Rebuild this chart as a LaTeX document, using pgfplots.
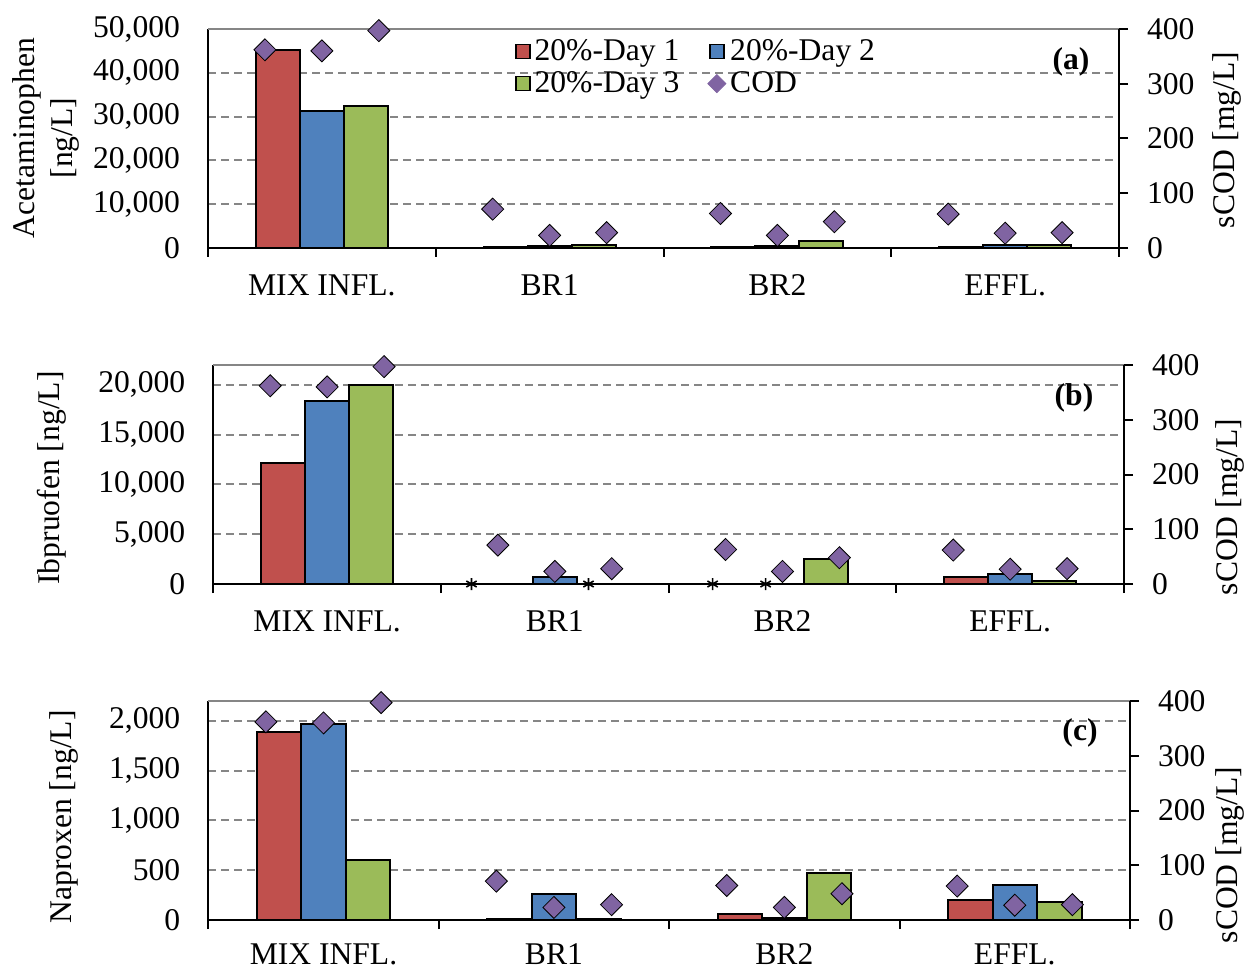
\documentclass[border=0pt]{standalone}
\usepackage{fontspec}
\setmainfont{Liberation Serif}
\usepackage{pgfplots}
\pgfplotsset{compat=1.18}
\definecolor{cred}{HTML}{C0504D}
\definecolor{cblue}{HTML}{4F81BD}
\definecolor{cgreen}{HTML}{9BBB59}
\definecolor{cpurple}{HTML}{8064A2}
\definecolor{cgrid}{HTML}{868686}

\pgfplotsset{
  every non boxed x axis/.style={},
  every non boxed y axis/.style={},
  base/.style={scale only axis, anchor=south west, xmin=-0.5, xmax=3.5, ymin=0, clip=false,
    height=109.5pt, axis line style={-, black, line width=1pt},
    tick style={black, line width=1pt}, major tick length=4.5pt, tick align=outside,
    /pgf/number format/assume math mode=true,
    /pgf/number format/.cd, fixed, 1000 sep={,}},
  prim/.style={base, axis x line*=bottom, axis y line*=left,
    xtick={-0.5,0.5,1.5,2.5,3.5}, xticklabels={},
    extra x ticks={0,1,2,3}, extra x tick labels={MIX INFL.,BR1,BR2,EFFL.},
    extra x tick style={major tick length=0pt, xticklabel style={inner sep=0.8pt, yshift=-12.5pt}},
    yticklabel style={xshift=-6pt},
    ytick style={draw=none}, scaled y ticks=false,
    ymajorgrids, major grid style={dash pattern=on 4pt off 2.5pt, color=cgrid, line width=1pt}},
  sec/.style={base, axis y line*=right, axis x line*=top, x axis line style={color=cgrid},
    xtick=\empty, ymax=400, ytick={0,100,...,400}, yticklabel style={xshift=6pt}},
  bar/.style={ybar, bar width=0.193, bar shift=0pt, draw=black, line width=1pt, forget plot},
  cod/.style={only marks, mark=square*, mark size=3.9pt, mark options={rotate=45, fill=cpurple, draw=none}},
  legsq/.style={legend image code/.code={\draw[draw=black, line width=0.8pt, ##1] (-1.5pt,-3.5pt) rectangle (5.5pt,3.5pt);}},
  legdia/.style={legend image code/.code={\fill[cpurple] (2pt,-4.5pt) -- (6.5pt,0pt) -- (2pt,4.5pt) -- (-2.5pt,0pt) -- cycle;}},
}

\begin{document}
\begin{tikzpicture}[font=\fontsize{15.8}{18.5}\selectfont]
% ---------- panel (a)
\begin{axis}[prim, at={(104pt,361pt)}, width=455.5pt, ymax=50000, ytick={0,10000,...,50000},
  legend style={at={(0.33,0.99)}, anchor=north west, draw=none, fill=none, legend columns=2,
    /tikz/every even column/.append style={column sep=12pt}, legend cell align=left}]
\addplot[bar, fill=cred] coordinates {(-0.193,45200) (0.807,300) (1.807,300) (2.807,200)};
\addplot[bar, fill=cblue] coordinates {(0,31300) (1,450) (2,450) (3,650)};
\addplot[bar, fill=cgreen] coordinates {(0.193,32500) (1.193,700) (2.193,1600) (3.193,700)};
\addlegendimage{legsq, fill=cred}
\addlegendentry{20\%-Day 1}
\addlegendimage{legsq, fill=cblue}
\addlegendentry{20\%-Day 2}
\addlegendimage{legsq, fill=cgreen}
\addlegendentry{20\%-Day 3}
\addlegendimage{legdia}
\addlegendentry{COD}
\end{axis}
\begin{axis}[sec, at={(104pt,361pt)}, width=455.5pt]
\addplot[cod] coordinates {(-0.25,362) (0,360) (0.25,397) (0.75,71) (1,23) (1.25,28) (1.75,63) (2,23) (2.25,48) (2.75,62) (3,27) (3.25,28)};
\end{axis}
% ---------- panel (b)
\begin{axis}[prim, at={(106.65pt,193pt)}, width=455.35pt, ymax=22000, ytick={0,5000,...,20000}]
\addplot[bar, fill=cred] coordinates {(-0.193,12150) (2.807,670)};
\addplot[bar, fill=cblue] coordinates {(0,18400) (1,750) (3,970)};
\addplot[bar, fill=cgreen] coordinates {(0.193,19950) (2.193,2500) (3.193,330)};
\addplot[only marks, mark=asterisk, mark size=3pt, mark options={black, line width=0.8pt}, forget plot]
  coordinates {(0.634,0) (1.148,0) (1.693,0) (1.926,0)};
\end{axis}
\begin{axis}[sec, at={(106.65pt,193pt)}, width=455.35pt]
\addplot[cod] coordinates {(-0.25,362) (0,360) (0.25,397) (0.75,71) (1,23) (1.25,28) (1.75,63) (2,23) (2.25,48) (2.75,62) (3,27) (3.25,28)};
\end{axis}
% ---------- panel (c)
\begin{axis}[prim, at={(104.15pt,25pt)}, width=460.85pt, ymax=2200, ytick={0,500,...,2000},
  every extra x tick/.append style={xticklabel style={yshift=1.5pt}}]
\addplot[bar, fill=cred] coordinates {(-0.193,1885) (0.807,15) (1.807,60) (2.807,200)};
\addplot[bar, fill=cblue] coordinates {(0,1965) (1,265) (2,25) (3,355)};
\addplot[bar, fill=cgreen] coordinates {(0.193,600) (1.193,15) (2.193,470) (3.193,180)};
\end{axis}
\begin{axis}[sec, at={(104.15pt,25pt)}, width=460.85pt]
\addplot[cod] coordinates {(-0.25,362) (0,360) (0.25,397) (0.75,71) (1,23) (1.25,28) (1.75,63) (2,23) (2.25,48) (2.75,62) (3,27) (3.25,28)};
\end{axis}
% ---------- labels
\node[rotate=90, align=center, font=\fontsize{15.8}{19}\selectfont] at (23pt,416pt) {Acetaminophen\\{}[ng/L]};
\node[rotate=90] at (26pt,246pt) {Ibpruofen [ng/L]};
\node[rotate=90] at (32pt,76.5pt) {Naproxen [ng/L]};
\node[rotate=90] at (613.5pt,415pt) {sCOD [mg/L]};
\node[rotate=90] at (615pt,231.5pt) {sCOD [mg/L]};
\node[rotate=90] at (615pt,57.5pt) {sCOD [mg/L]};
\node[font=\fontsize{15.8}{18.5}\selectfont\bfseries] at (535.5pt,454pt) {(a)};
\node[font=\fontsize{15.8}{18.5}\selectfont\bfseries] at (537pt,286pt) {(b)};
\node[font=\fontsize{15.8}{18.5}\selectfont\bfseries] at (540pt,118.5pt) {(c)};
\pgfresetboundingbox
\path[use as bounding box] (0,0) rectangle (623pt,485pt);
\end{tikzpicture}
\end{document}
